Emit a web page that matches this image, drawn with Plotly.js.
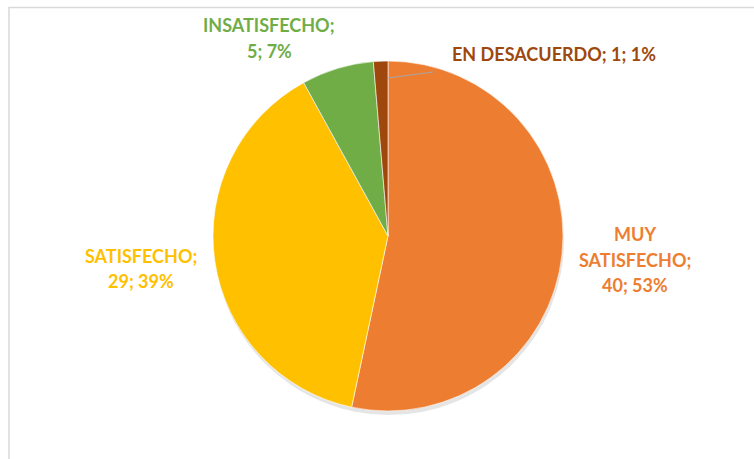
<!DOCTYPE html>
<html>
<head>
<meta charset="utf-8">
<script src="https://cdn.plot.ly/plotly-3.0.1.min.js"></script>
<style>html,body{margin:0;padding:0;background:#fff;}#chart{width:754px;height:459px;}</style>
</head>
<body>
<div id="chart"></div>
<script>
// ---- data ----
const categories = ['MUY SATISFECHO', 'SATISFECHO', 'INSATISFECHO', 'EN DESACUERDO'];
const counts = [40, 29, 5, 1];
const colors = ['#ED7D31', '#FFC000', '#70AD47', '#9E480E'];
// how each label is broken into lines (words of the category on the first lines)
const labelBreaks = [['MUY', 'SATISFECHO;', '{v}; {p}%'], ['SATISFECHO;', '{v}; {p}%'], ['INSATISFECHO;', '{v}; {p}%'], ['EN DESACUERDO; {v}; {p}%']];
// label anchor (pixel centre of first line) and line gap
const labelPos = [[635, 234], [141, 256], [269, 25], [554, 54]];
const labelGap = [25.5, 25, 26, 0];

const W = 754, H = 459;
const px = x => x / W, py = y => 1 - y / H;
const total = counts.reduce((a, b) => a + b, 0);

const annotations = [];
categories.forEach((c, i) => {
  const pct = Math.round(counts[i] / total * 100);
  labelBreaks[i].forEach((ln, j) => {
    const txt = ln.replace('{v}', counts[i]).replace('{p}', pct);
    annotations.push({
      xref: 'paper', yref: 'paper',
      x: px(labelPos[i][0]), y: py(labelPos[i][1] + j * labelGap[i]),
      xanchor: 'center', yanchor: 'middle',
      text: '<b>' + txt + '</b>', showarrow: false,
      font: {family: 'Lato, "Open Sans", sans-serif', size: 18, color: colors[i]}
    });
  });
});

const cx = 388, cy = 236, r = 175;
const dom = {x: [px(cx - r), px(cx + r)], y: [py(cy + r), py(cy - r)]};
const domShadow = {x: [px(cx - r + 1), px(cx + r + 1)], y: [py(cy + r + 4), py(cy - r + 4)]};

const traces = [
  {
    type: 'pie', values: [total], labels: ['shadow'], domain: domShadow,
    marker: {colors: ['rgba(0,0,0,0.10)']}, textinfo: 'none', hoverinfo: 'skip', showlegend: false, sort: false
  },
  {
    type: 'pie', values: counts, labels: categories, domain: dom,
    sort: false, direction: 'clockwise', rotation: 0,
    marker: {colors: colors, line: {color: '#ffffff', width: 0.6}},
    textinfo: 'none', showlegend: false
  }
];

const layout = {
  width: W, height: H,
  margin: {l: 0, r: 0, t: 0, b: 0},
  paper_bgcolor: '#ffffff',
  showlegend: false,
  annotations: annotations,
  shapes: [
    {type: 'rect', xref: 'paper', yref: 'paper', x0: px(9), x1: px(770), y0: py(480), y1: py(7.5),
     line: {color: '#d9d9d9', width: 1.5}, fillcolor: 'rgba(0,0,0,0)'},
    {type: 'line', xref: 'paper', yref: 'paper', x0: px(388), y0: py(78), x1: px(433), y1: py(72),
     line: {color: '#a6a6a6', width: 1.2}}
  ]
};

Plotly.newPlot('chart', traces, layout, {displayModeBar: false, staticPlot: true});
</script>
</body>
</html>
